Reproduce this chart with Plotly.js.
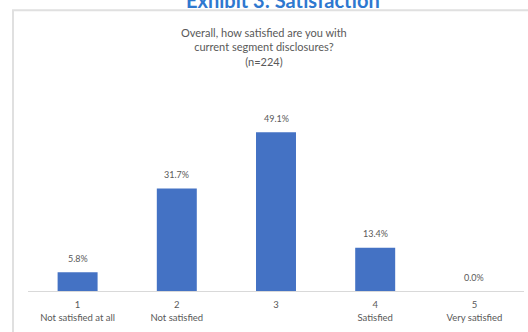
<!DOCTYPE html>
<html>
<head>
<meta charset="utf-8">
<script src="https://cdn.plot.ly/plotly-3.0.1.min.js"></script>
<style>html,body{margin:0;padding:0;background:#fff;}#chart{width:528px;height:332px;}</style>
</head>
<body>
<div id="chart"></div>
<script>
const categories = ['1', '2', '3', '4', '5'];
const categoryLabels = ['1<br>Not satisfied at all', '2<br>Not satisfied', '3', '4<br>Satisfied', '5<br>Very satisfied'];
const values = [5.8, 31.7, 49.1, 13.4, 0.0];
const chartTitle = 'Exhibit 3: Satisfaction';
const subtitle = 'Overall, how satisfied are you with<br>current segment disclosures?<br>(n=224)';

const font = 'Lato, "Open Sans", sans-serif';
const gray = '#595959';

const labelAnnotations = categories.map((c, i) => ({
  x: i, y: values[i], xref: 'x', yref: 'y',
  text: values[i].toFixed(1) + '%', showarrow: false,
  yanchor: 'middle', yshift: 14,
  font: {family: font, size: 9, color: gray}
}));

const data = [{
  type: 'bar', x: categories, y: values,
  marker: {color: '#4472c4'},
  hoverinfo: 'skip'
}];

const layout = {
  width: 528, height: 332,
  margin: {l: 28, r: 4, t: 97, b: 41},
  paper_bgcolor: '#fff', plot_bgcolor: '#fff',
  bargap: 0.597,
  showlegend: false,
  font: {family: font, color: gray},
  xaxis: {
    type: 'category', tickvals: categories, ticktext: categoryLabels,
    range: [-0.5, 4.5],
    showline: true, linecolor: '#d9d9d9', linewidth: 1,
    showgrid: false, zeroline: false, ticks: '',
    ticklabelstandoff: 5,
    tickfont: {family: font, size: 9.5, color: gray}
  },
  yaxis: {range: [0, 60], visible: false, showgrid: false, zeroline: false},
  shapes: [{
    type: 'rect', xref: 'paper', yref: 'paper',
    x0: -0.0302, x1: 1.1, y0: -1, y1: 1.447,
    line: {color: '#e0e0e0', width: 2}, fillcolor: 'rgba(0,0,0,0)'
  }],
  annotations: labelAnnotations.concat([
    {xref: 'paper', yref: 'paper', x: 0.514, y: 1.5, yanchor: 'middle', showarrow: false,
     text: '<b>' + chartTitle + '</b>', font: {family: font, size: 20, color: '#2e78cf'}},
    {xref: 'paper', yref: 'paper', x: 0.476, y: 1.378, yanchor: 'top', showarrow: false,
     text: subtitle, font: {family: font, size: 11, color: gray}}
  ])
};

Plotly.newPlot('chart', data, layout, {staticPlot: true, displayModeBar: false});
</script>
</body>
</html>
